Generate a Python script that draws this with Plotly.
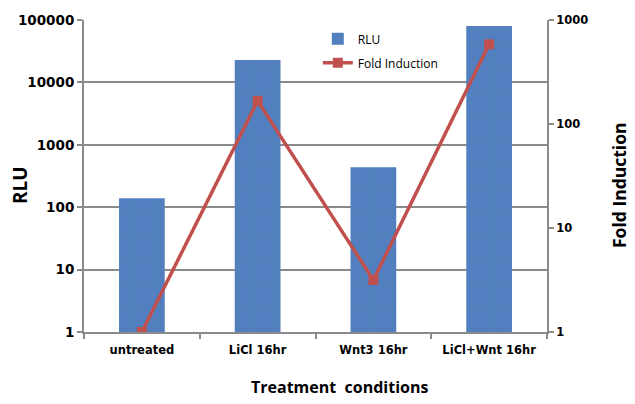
import plotly.graph_objects as go

categories = ["untreated", "LiCl 16hr", "Wnt3 16hr", "LiCl+Wnt 16hr"]
rlu = [139, 22850, 436, 80100]
fold_induction = [1, 167, 3.16, 584]
left_ticks = [1, 10, 100, 1000, 10000, 100000]
right_ticks = [1, 10, 100, 1000]

GRID = "#8a8a8a"
TICKFONT = "DejaVu Sans, Verdana, sans-serif"
TITLEFONT = "Open Sans, sans-serif"

# page has an 8px body offset; plot area target (page px): x 84..547, y 20..332
PX0, PX1, PY0, PY1 = 84, 547, 20, 332
W, H = PX1 - PX0, PY1 - PY0

def px(x):
    return (x - PX0) / W

def py(y):
    return (PY1 - y) / H

fig = go.Figure()
fig.add_trace(go.Bar(
    x=categories, y=rlu, name="RLU", legendgroup="a",
    marker=dict(color="#4F81BD", line=dict(width=0),
                pattern=dict(shape=".", fgcolor="#7468d0", size=3, solidity=0.15)),
    width=0.395, yaxis="y",
))
fig.add_trace(go.Scatter(
    x=categories, y=fold_induction, name="Fold Induction", legendgroup="b",
    mode="lines+markers",
    line=dict(color="#C0504D", width=3.5),
    marker=dict(symbol="square", size=10, color="#C0504D"),
    yaxis="y2",
))

fig.update_layout(
    width=627, height=396,
    margin=dict(l=PX0 - 8, r=635 - PX1, t=PY0 - 8, b=404 - PY1),
    plot_bgcolor="white", paper_bgcolor="white",
    font=dict(family=TICKFONT, color="black"),
    showlegend=True,
    legend=dict(x=0.505, y=0.986, xanchor="left", yanchor="top",
                bgcolor="rgba(0,0,0,0)", font=dict(size=12, family=TITLEFONT),
                traceorder="grouped", tracegroupgap=5),
    bargap=0.6,
    xaxis=dict(
        type="category", showgrid=False, showline=True, linecolor=GRID, linewidth=2,
        ticks="outside", tickson="boundaries", ticklen=5, tickcolor=GRID, tickwidth=1.5,
        tickangle=0, automargin=False, ticklabelstandoff=6,
        tickfont=dict(size=11.5, family=TICKFONT, weight="bold"),
        range=[-0.5, 3.5], fixedrange=True,
    ),
    yaxis=dict(
        type="log", range=[0, 5], tickvals=left_ticks, ticktext=[str(v) for v in left_ticks],
        showgrid=True, gridcolor=GRID, gridwidth=2,
        showline=True, linecolor=GRID, linewidth=2,
        ticks="outside", ticklen=5, tickcolor=GRID, tickwidth=1.5, automargin=False,
        tickfont=dict(size=13.5, family=TICKFONT, weight="bold"),
        zeroline=False,
    ),
    yaxis2=dict(
        type="log", range=[0, 3], tickvals=right_ticks, ticktext=[str(v) for v in right_ticks],
        overlaying="y", side="right", showgrid=False,
        showline=True, linecolor=GRID, linewidth=2,
        ticks="outside", ticklen=5, tickcolor=GRID, tickwidth=1.5, automargin=False,
        tickfont=dict(size=11.5, family=TICKFONT, weight="bold"),
        zeroline=False,
    ),
    annotations=[
        dict(text="RLU", x=px(20), y=py(185), xref="paper", yref="paper",
             textangle=-90, showarrow=False, xanchor="center", yanchor="middle",
             font=dict(size=19, family=TITLEFONT, weight="bold", color="black")),
        dict(text="Fold Induction", x=px(619), y=py(185), xref="paper", yref="paper",
             textangle=-90, showarrow=False, xanchor="center", yanchor="middle",
             font=dict(size=17.5, family=TITLEFONT, weight="bold", color="black")),
        dict(text="Treatment  conditions", x=px(339), y=py(387), xref="paper", yref="paper",
             showarrow=False, xanchor="center", yanchor="middle",
             font=dict(size=16, family=TITLEFONT, weight="bold", color="black")),
    ],
)

fig.write_html("out.html")
